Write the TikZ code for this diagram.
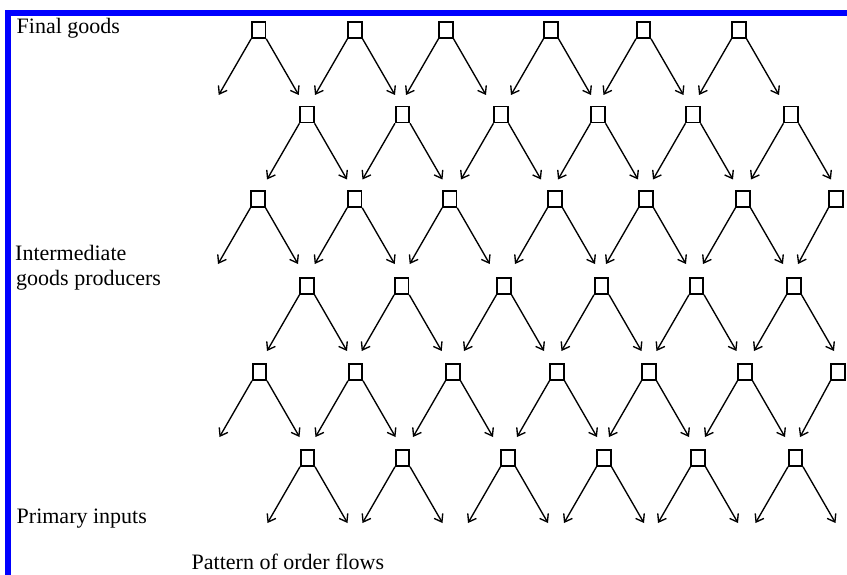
\documentclass[tikz,border=0pt]{standalone}
\usepackage{fontspec}
\setmainfont{Liberation Serif}
\usetikzlibrary{arrows.meta}
\begin{document}
\begin{tikzpicture}[x=1pt,y=-1pt,
  firm/.style={draw, line width=1.6pt, minimum width=13.5pt, minimum height=16pt, inner sep=0pt},
  order/.style={line width=1.35pt, -{Straight Barb[length=7pt,width=10pt,line width=1.35pt]}},
  lbl/.style={font=\fontsize{22}{24}\selectfont, anchor=base west, inner sep=0pt},
  frame/.style={draw=blue, line width=5.6pt}]
\useasboundingbox (0,0) rectangle (847,575);
\draw[frame] (7.85,575) -- (7.85,12.85) -- (847,12.85);
\foreach \r/\y/\xs in {1/30/{258.7,355,446,551,643.5,739},
                       2/114.5/{307,402.5,501,598,693,791},
                       3/199/{258,354.7,449.7,555,646,743},
                       4/286/{307,401.7,504,601.5,696.5,794},
                       5/372/{259.5,355.5,453,557,649,745},
                       6/458/{307.5,402.5,508,604,698,795.5}}{
  \foreach \x [count=\i] in \xs {
    \node[firm] (b\r-\i) at (\x,\y) {};
    \coordinate (l\r-\i) at (\x-40,\y+65);
    \coordinate (r\r-\i) at (\x+40,\y+65);
    \draw[order] (b\r-\i.south west) -- (l\r-\i);
    \draw[order] (b\r-\i.south east) -- (r\r-\i);
  }
}
\node[firm] (b3-7) at (836,199) {};
\coordinate (l3-7) at (798,264);
\draw[order] (b3-7.south west) -- (l3-7);
\node[firm] (b5-7) at (838,372) {};
\coordinate (l5-7) at (800,437);
\draw[order] (b5-7.south west) -- (l5-7);
\node[lbl] (fg) at (16.5,33.3) {Final goods};
\node[lbl] (ig1) at (15,261) {Intermediate};
\node[lbl] (ig2) at (16,285) {goods producers};
\node[lbl] (pi) at (16.5,523.3) {Primary inputs};
\node[lbl] (po) at (191.5,569) {Pattern of order flows};
\end{tikzpicture}
\end{document}
